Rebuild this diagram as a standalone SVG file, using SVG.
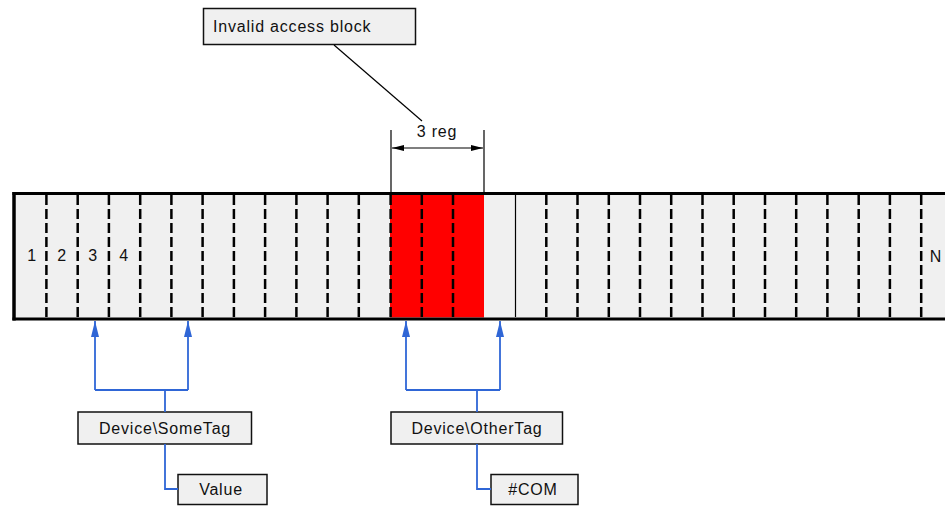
<svg xmlns="http://www.w3.org/2000/svg" width="945" height="506" viewBox="0 0 945 506">
<style>
text{font-family:"Liberation Sans",Arial,sans-serif;font-size:16px;fill:#111;letter-spacing:0.8px}
.box{fill:#f0f0f0;stroke:#111;stroke-width:1.5}
.div{stroke:#000;stroke-width:2.5;stroke-dasharray:10 4;fill:none}
.blue{stroke:#2f66d6;stroke-width:1.8;fill:none}
.blk{stroke:#000;stroke-width:1.2;fill:none}
</style>
<defs>
<marker id="ba" viewBox="0 0 16 10" refX="16" refY="5" markerWidth="16" markerHeight="10" markerUnits="userSpaceOnUse" orient="auto-start-reverse">
<path d="M16,5 L0,9 L0,1 Z" fill="#2f66d6"/>
</marker>
<marker id="da" viewBox="0 0 12 8" refX="12" refY="4" markerWidth="12" markerHeight="8" markerUnits="userSpaceOnUse" orient="auto-start-reverse">
<path d="M0,1 L12,4 L0,7 Z" fill="#000"/>
</marker>
</defs>
<g id="register-bar">
<rect x="14" y="194" width="940" height="124" fill="#f0f0f0"/>
<rect x="390" y="194.5" width="94" height="123" fill="#ff0000"/>
<g>
<line class="div" x1="46.4" y1="195" x2="46.4" y2="317"/>
<line class="div" x1="77.7" y1="195" x2="77.7" y2="317"/>
<line class="div" x1="108.9" y1="195" x2="108.9" y2="317"/>
<line class="div" x1="140.2" y1="195" x2="140.2" y2="317"/>
<line class="div" x1="171.4" y1="195" x2="171.4" y2="317"/>
<line class="div" x1="202.6" y1="195" x2="202.6" y2="317"/>
<line class="div" x1="233.9" y1="195" x2="233.9" y2="317"/>
<line class="div" x1="265.1" y1="195" x2="265.1" y2="317"/>
<line class="div" x1="296.4" y1="195" x2="296.4" y2="317"/>
<line class="div" x1="327.6" y1="195" x2="327.6" y2="317"/>
<line class="div" x1="358.8" y1="195" x2="358.8" y2="317"/>
<line class="div" x1="390.6" y1="195" x2="390.6" y2="317"/>
<line class="div" x1="421.8" y1="195" x2="421.8" y2="317"/>
<line class="div" x1="453" y1="195" x2="453" y2="317"/>
<line x1="515.5" y1="195" x2="515.5" y2="317" stroke="#000" stroke-width="1.2"/>
<line class="div" x1="546.3" y1="195" x2="546.3" y2="317"/>
<line class="div" x1="577.5" y1="195" x2="577.5" y2="317"/>
<line class="div" x1="608.8" y1="195" x2="608.8" y2="317"/>
<line class="div" x1="640" y1="195" x2="640" y2="317" stroke-width="1.5"/>
<line class="div" x1="671.2" y1="195" x2="671.2" y2="317"/>
<line class="div" x1="702.5" y1="195" x2="702.5" y2="317"/>
<line class="div" x1="733.7" y1="195" x2="733.7" y2="317"/>
<line class="div" x1="765" y1="195" x2="765" y2="317"/>
<line class="div" x1="796.2" y1="195" x2="796.2" y2="317"/>
<line class="div" x1="827.4" y1="195" x2="827.4" y2="317"/>
<line class="div" x1="858.7" y1="195" x2="858.7" y2="317"/>
<line class="div" x1="889.9" y1="195" x2="889.9" y2="317"/>
<line class="div" x1="921.2" y1="195" x2="921.2" y2="317"/>
</g>
<line x1="12.5" y1="193.5" x2="945" y2="193.5" stroke="#000" stroke-width="3"/>
<line x1="12.5" y1="319" x2="945" y2="319" stroke="#000" stroke-width="3"/>
<line x1="14" y1="192" x2="14" y2="320.5" stroke="#000" stroke-width="3.5"/>
<text x="32" y="261" text-anchor="middle">1</text>
<text x="62" y="261" text-anchor="middle">2</text>
<text x="93" y="261" text-anchor="middle">3</text>
<text x="124" y="261" text-anchor="middle">4</text>
<text x="936" y="262" text-anchor="middle">N</text>
</g>
<g id="dimension">
<line class="blk" x1="391" y1="130" x2="391" y2="193"/>
<line class="blk" x1="484" y1="130" x2="484" y2="193"/>
<line class="blk" x1="392" y1="148" x2="483" y2="148" marker-start="url(#da)" marker-end="url(#da)"/>
<text x="437" y="137" text-anchor="middle">3 reg</text>
</g>
<g id="invalid-access-block">
<rect class="box" x="203.5" y="8.5" width="212" height="36"/>
<text x="213" y="32">Invalid access block</text>
</g>
<g id="device-sometag">
<rect class="box" x="78" y="412" width="173.5" height="32"/>
<text x="165" y="434" text-anchor="middle">Device\SomeTag</text>
</g>
<g id="value">
<rect class="box" x="178" y="474.5" width="89" height="30"/>
<text x="221" y="495" text-anchor="middle">Value</text>
</g>
<g id="device-othertag">
<rect class="box" x="391" y="412" width="171.5" height="32"/>
<text x="477" y="434" text-anchor="middle">Device\OtherTag</text>
</g>
<g id="com">
<rect class="box" x="491" y="474.5" width="87" height="30"/>
<text x="533" y="495" text-anchor="middle">#COM</text>
</g>
<g id="connectors">
<path class="blk" d="M334,45 L422,121"/>
<path class="blue" d="M95,390 L95,321" marker-end="url(#ba)"/>
<path class="blue" d="M188,390 L188,321" marker-end="url(#ba)"/>
<path class="blue" d="M95,390 L188,390 M165,390 L165,412"/>
<path class="blue" d="M165,444 L165,489 L178,489"/>
<path class="blue" d="M406,390 L406,321" marker-end="url(#ba)"/>
<path class="blue" d="M500,390 L500,321" marker-end="url(#ba)"/>
<path class="blue" d="M406,390 L500,390 M477,390 L477,412"/>
<path class="blue" d="M477,444 L477,489 L491,489"/>
</g>
</svg>
